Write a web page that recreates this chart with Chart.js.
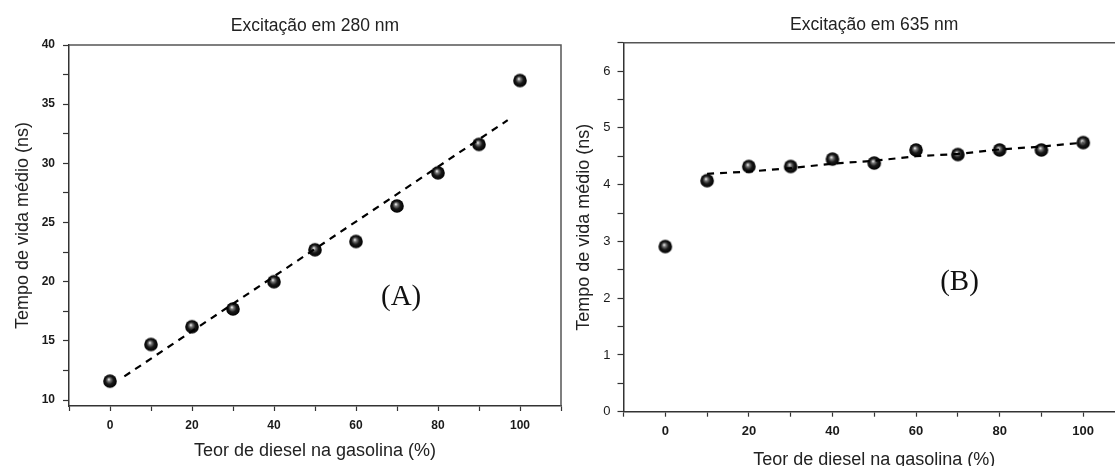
<!DOCTYPE html>
<html>
<head>
<meta charset="utf-8">
<script src="https://cdn.jsdelivr.net/npm/chart.js@4/dist/chart.umd.min.js"></script>
<style>
  html, body { margin: 0; padding: 0; background: #fff; overflow: hidden; width: 1115px; height: 466px; }
  #chartA { position: absolute; left: 0; top: 0; }
  #chartB { position: absolute; left: 560px; top: 0; }
</style>
</head>
<body>
<canvas id="chartA" width="575" height="466"></canvas>
<canvas id="chartB" width="580" height="480"></canvas>
<script>
// diesel content in gasoline (%)
const dieselPct = [0, 10, 20, 30, 40, 50, 60, 70, 80, 90, 100];

// (A) excitation at 280 nm - mean lifetime (ns)
const lifetime280 = [11.6, 14.7, 16.2, 17.7, 20.0, 22.7, 23.4, 26.4, 29.2, 31.6, 37.0];
const fit280X = [3.5, 97];
const fit280Y = [12.0, 33.65];

// (B) excitation at 635 nm - mean lifetime (ns)
const lifetime635 = [2.91, 4.07, 4.32, 4.32, 4.45, 4.38, 4.61, 4.53, 4.61, 4.61, 4.74];
const fit635X = [10, 20, 30, 40, 50, 60, 70, 80, 90, 100];
const fit635Y = [4.19, 4.23, 4.29, 4.37, 4.42, 4.50, 4.54, 4.62, 4.67, 4.74];

const xTickValues = [0, 20, 40, 60, 80, 100];

const SANS = '"Liberation Sans", Arial, sans-serif';

// black shaded ball used as marker
function makeBall(r) {
  const c = document.createElement('canvas');
  const s = Math.ceil(r * 2) + 2;
  c.width = s; c.height = s;
  const g = c.getContext('2d');
  const cx = s / 2, cy = s / 2;
  const grad = g.createRadialGradient(cx - 1.2, cy - 1.8, 0.3, cx, cy, r);
  grad.addColorStop(0, '#e8e8e8');
  grad.addColorStop(0.22, '#777');
  grad.addColorStop(0.55, '#1a1a1a');
  grad.addColorStop(1, '#000');
  g.fillStyle = grad;
  g.beginPath();
  g.arc(cx, cy, r, 0, Math.PI * 2);
  g.fill();
  return c;
}
const ball = makeBall(6.8);

// top + right lines of the plot box
const framePlugin = {
  id: 'frame',
  afterDraw(chart) {
    const { ctx, chartArea: a } = chart;
    ctx.save();
    ctx.strokeStyle = '#555';
    ctx.lineWidth = 1.5;
    ctx.beginPath();
    ctx.moveTo(a.left, a.top);
    ctx.lineTo(a.right, a.top);
    ctx.lineTo(a.right, a.bottom);
    ctx.stroke();
    ctx.restore();
  }
};

// "(A)" / "(B)" panel letters placed in data units
const panelLabelPlugin = {
  id: 'panelLabel',
  afterDraw(chart, args, opts) {
    const { ctx, scales } = chart;
    ctx.save();
    ctx.font = '29px "Liberation Serif", "Times New Roman", serif';
    ctx.fillStyle = '#111';
    ctx.textAlign = 'center';
    ctx.textBaseline = 'middle';
    ctx.fillText(opts.text, scales.x.getPixelForValue(opts.x), scales.y.getPixelForValue(opts.y));
    ctx.restore();
  }
};

function pts(xs, ys) {
  return xs.map((x, i) => ({ x, y: ys[i] }));
}

function drawChart(canvasId, o) {
  const ctx = document.getElementById(canvasId).getContext('2d');
  return new Chart(ctx, {
    type: 'scatter',
    data: {
      datasets: [
        {
          type: 'line',
          data: pts(o.fitX, o.fitY),
          borderColor: '#000',
          borderWidth: 2.2,
          borderDash: [7, 6],
          pointRadius: 0,
          tension: 0,
          fill: false
        },
        {
          data: pts(dieselPct, o.values),
          pointStyle: ball,
          pointRadius: 6.8,
          backgroundColor: '#000',
          borderColor: '#000'
        }
      ]
    },
    options: {
      responsive: false,
      animation: false,
      layout: { padding: { left: 0, right: o.padRight, top: 0, bottom: 0 } },
      plugins: {
        legend: { display: false },
        tooltip: { enabled: false },
        title: {
          display: true,
          text: o.title,
          fullSize: false,
          color: '#222',
          font: { family: SANS, size: 17.5, weight: 'normal' },
          padding: o.titlePad
        },
        panelLabel: o.panel
      },
      scales: {
        x: {
          type: 'linear',
          min: -10,
          max: 110,
          afterFit: s => { s.height = o.xHeight; },
          border: { color: '#333', width: 1.5 },
          grid: { drawOnChartArea: false, drawTicks: true, tickLength: 5, tickColor: '#333', tickWidth: 1.2 },
          ticks: {
            stepSize: 10,
            includeBounds: false,
            autoSkip: false,
            maxRotation: 0,
            padding: 7,
            color: '#1a1a1a',
            font: { family: SANS, size: o.xTickSize, weight: 'bold' },
            callback: v => xTickValues.includes(v) ? String(v) : ''
          },
          title: {
            display: true,
            text: 'Teor de diesel na gasolina (%)',
            color: '#222',
            font: { family: SANS, size: 18 },
            padding: { top: 0, bottom: o.xTitleBottom }
          }
        },
        y: {
          type: 'linear',
          min: o.yMin,
          max: o.yMax,
          afterFit: s => { s.width = o.yWidth; },
          border: { color: '#333', width: 1.5 },
          grid: { drawOnChartArea: false, drawTicks: true, tickLength: 6, tickColor: '#333', tickWidth: 1.2 },
          ticks: {
            stepSize: o.yStep,
            includeBounds: false,
            autoSkip: false,
            padding: o.yTickPad,
            color: '#1a1a1a',
            font: o.yFont,
            callback: v => (Math.abs(v / o.yLabelStep - Math.round(v / o.yLabelStep)) < 1e-6) ? String(v) : ''
          },
          title: {
            display: true,
            text: 'Tempo de vida médio (ns)',
            color: '#222',
            font: { family: SANS, size: 18 },
            padding: { top: o.yTitleTop, bottom: 0 }
          }
        }
      }
    },
    plugins: [framePlugin, panelLabelPlugin]
  });
}

drawChart('chartA', {
  title: 'Excitação em 280 nm',
  values: lifetime280,
  fitX: fit280X,
  fitY: fit280Y,
  yMin: 9.5,
  yMax: 40,
  yStep: 2.5,
  yLabelStep: 5,
  yFont: { family: SANS, size: 12, weight: 'bold' },
  yTickPad: 8,
  yWidth: 69,
  yTitleTop: 12,
  xHeight: 60,
  xTickSize: 12,
  xTitleBottom: 4,
  padRight: 14,
  titlePad: { top: 16, bottom: 8 },
  panel: { text: '(A)', x: 71, y: 18.7 }
});

drawChart('chartB', {
  title: 'Excitação em 635 nm',
  values: lifetime635,
  fitX: fit635X,
  fitY: fit635Y,
  yMin: 0,
  yMax: 6.5,
  yStep: 0.5,
  yLabelStep: 1,
  yFont: { family: SANS, size: 13, weight: 'normal' },
  yTickPad: 7,
  yWidth: 63.5,
  yTitleTop: 13.5,
  xHeight: 68.3,
  xTickSize: 13,
  xTitleBottom: 9,
  padRight: 15,
  titlePad: { top: 15, bottom: 6.7 },
  panel: { text: '(B)', x: 70.4, y: 2.27 }
});
</script>
</body>
</html>
